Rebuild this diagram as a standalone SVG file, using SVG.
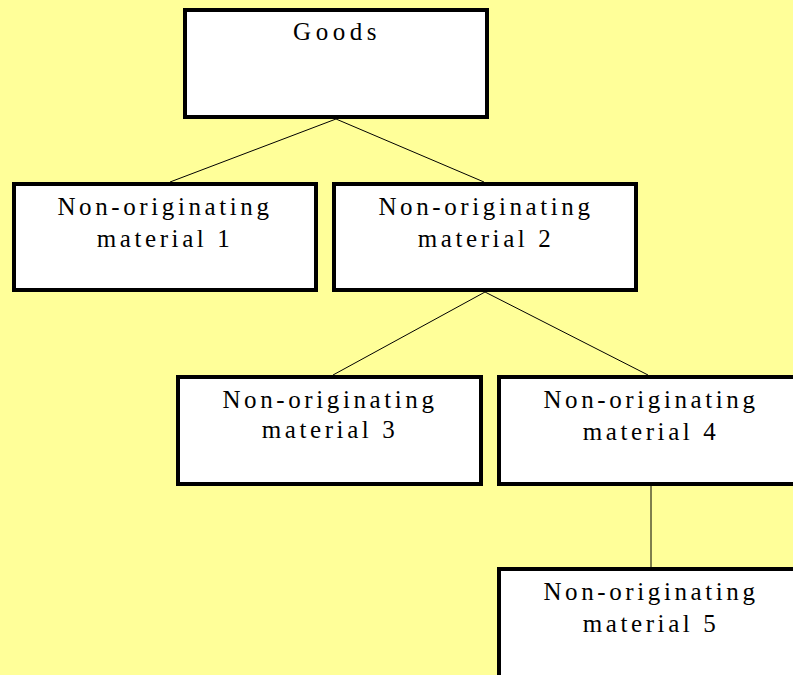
<svg xmlns="http://www.w3.org/2000/svg" width="793" height="675" viewBox="0 0 793 675">
<style>
.box{fill:#ffffff;stroke:#000000;stroke-width:4}
.t{font-family:"Liberation Serif","Times New Roman",serif;font-size:25px;letter-spacing:3.6px;fill:#000;text-anchor:middle}
.c{stroke:#000;stroke-width:1;fill:none}
</style>
<rect x="0" y="0" width="793" height="675" fill="#FFFF99"/>
<g id="connectors">
<line class="c" x1="336" y1="119" x2="170" y2="182"/>
<line class="c" x1="336" y1="119" x2="484" y2="182"/>
<line class="c" x1="485" y1="292" x2="333" y2="375"/>
<line class="c" x1="485" y1="292" x2="648" y2="375"/>
<line class="c" x1="651" y1="486" x2="651" y2="567"/>
</g>
<g id="goods">
<rect class="box" x="185" y="10" width="302" height="107"/>
<text class="t" x="337" y="40" style="letter-spacing:4.5px">Goods</text>
</g>
<g id="m1">
<rect class="box" x="14" y="184" width="302" height="106"/>
<text class="t" x="165" y="215">Non-originating</text>
<text class="t" x="165" y="247">material 1</text>
</g>
<g id="m2">
<rect class="box" x="334" y="184" width="302" height="106"/>
<text class="t" x="486" y="215">Non-originating</text>
<text class="t" x="486" y="247">material 2</text>
</g>
<g id="m3">
<rect class="box" x="178" y="377" width="303" height="107"/>
<text class="t" x="330" y="408">Non-originating</text>
<text class="t" x="330" y="438">material 3</text>
</g>
<g id="m4">
<rect class="box" x="499" y="377" width="303" height="107"/>
<text class="t" x="651" y="408">Non-originating</text>
<text class="t" x="651" y="440">material 4</text>
</g>
<g id="m5">
<rect class="box" x="499" y="569" width="303" height="120"/>
<text class="t" x="651" y="600">Non-originating</text>
<text class="t" x="651" y="632">material 5</text>
</g>
</svg>
